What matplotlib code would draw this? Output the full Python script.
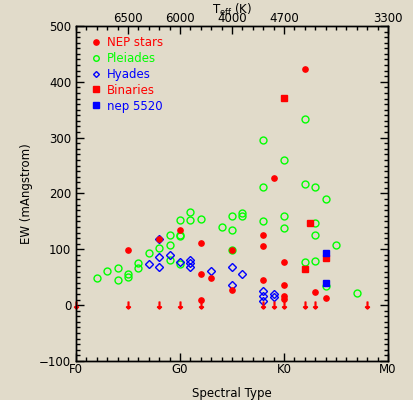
import matplotlib
matplotlib.use("Agg")
import matplotlib.pyplot as plt
from matplotlib.lines import Line2D
from matplotlib.ticker import MultipleLocator

# spectral type index: F0 = 0, G0 = 10, K0 = 20, M0 = 30
nep_x = [5, 8, 10, 12, 12, 13, 12, 15, 15, 22, 19, 18, 18, 20, 18, 20, 23, 20, 20, 24]
nep_y = [98, 118, 135, 112, 55, 49, 10, 98, 28, 423, 228, 125, 106, 77, 45, 37, 24, 17, 11, 13]

pleiades_x = [2, 3, 4, 4, 5, 5, 6, 6, 7, 8, 9, 9, 9, 10, 10, 10, 10, 11, 11, 12, 14,
              15, 15, 16, 16, 15, 22, 18, 20, 18, 22, 23, 24, 18, 20, 20, 23, 23, 25,
              22, 23, 24, 27]
pleiades_y = [49, 61, 66, 45, 56, 50, 75, 67, 94, 103, 125, 107, 80, 152, 126, 124, 73,
              167, 152, 154, 140, 160, 135, 165, 160, 98, 333, 295, 260, 212, 217, 212,
              191, 150, 159, 138, 148, 125, 107, 77, 79, 34, 21]

hyades_x = [8, 8, 8, 7, 9, 10, 11, 11, 11, 13, 15, 16, 15, 18, 18, 18, 19, 19]
hyades_y = [118, 87, 68, 73, 89, 77, 80, 75, 69, 61, 69, 55, 36, 25, 16, 7, 20, 14]

binary_x = [20, 22.5, 24, 22]
binary_y = [371, 147, 85, 64]

nep5520_x = [24, 24]
nep5520_y = [93, 39]

# upper limits plotted at EW = 0
limit_x = [0, 5, 8, 10, 12, 18, 19, 20, 22, 23, 28]
limit_y = [0] * len(limit_x)

sp_ticks = [0, 10, 20, 30]
sp_labels = ["F0", "G0", "K0", "M0"]
teff_ticks = [5, 10, 15, 20, 30]
teff_labels = ["6500", "6000", "4000", "4700", "3300"]

bg = "#e1dbca"
plt.rcParams["font.family"] = "DejaVu Sans"
plt.rcParams["font.size"] = 8.5

fig = plt.figure(figsize=(4.14, 4.0), dpi=100, facecolor=bg)
ax = fig.add_axes([76 / 414, 1 - 361 / 400, 312 / 414, 335 / 400], facecolor=bg)

ax.plot(pleiades_x, pleiades_y, "o", ms=5, mfc="none", mec="#00ff00", mew=1)
ax.plot(hyades_x, hyades_y, "D", ms=3.6, mfc="none", mec="blue", mew=1)
ax.plot(nep_x, nep_y, "o", ms=3.8, color="red")
ax.plot(binary_x, binary_y, "s", ms=4.8, color="red")
ax.plot(nep5520_x, nep5520_y, "s", ms=4.8, color="blue")
ax.plot(limit_x, limit_y, marker=r"$\downarrow$", ls="none", ms=5, color="red",
        clip_on=False)

ax.set_xlim(0, 30)
ax.set_ylim(-100, 500)
ax.set_xticks(sp_ticks)
ax.set_xticklabels(sp_labels)
ax.xaxis.set_minor_locator(MultipleLocator(1))
ax.yaxis.set_major_locator(MultipleLocator(100))
ax.yaxis.set_minor_locator(MultipleLocator(10))
ax.tick_params(which="both", direction="in", right=True, width=1)
ax.tick_params(axis="x", which="both", top=False)
ax.tick_params(which="major", length=6)
ax.tick_params(which="minor", length=3)
ax.tick_params(axis="x", pad=1.5)
ax.set_xlabel("Spectral Type", labelpad=8)
ax.set_ylabel("EW (mAngstrom)", labelpad=4)

top = ax.twiny()
top.set_xlim(0, 30)
top.set_xticks(teff_ticks)
top.set_xticklabels(teff_labels)
top.xaxis.set_minor_locator(MultipleLocator(1))
top.tick_params(which="both", direction="in", width=1)
top.tick_params(which="major", length=6, pad=0.5)
top.tick_params(which="minor", length=3)
top.set_xlabel(r"T$_{\rm eff}$ (K)", labelpad=-1)

for a in (ax, top):
    for s in a.spines.values():
        s.set_linewidth(1)

handles = [
    Line2D([], [], ls="none", marker="o", ms=3.8, color="red"),
    Line2D([], [], ls="none", marker="o", ms=4, mfc="none", mec="#00ff00", color="#00ff00"),
    Line2D([], [], ls="none", marker="D", ms=3, mfc="none", mec="blue", color="blue"),
    Line2D([], [], ls="none", marker="s", ms=4.5, color="red"),
    Line2D([], [], ls="none", marker="s", ms=4.5, color="blue"),
]
names = ["NEP stars", "Pleiades", "Hyades", "Binaries", "nep 5520"]
ax.legend(handles, names, loc="upper left", bbox_to_anchor=(0.03, 0.985),
          frameon=False, handlelength=1, handletextpad=0.4, labelspacing=0.25,
          borderaxespad=0, labelcolor="linecolor", fontsize=8.5)

fig.savefig("out.png", dpi=100, facecolor=bg)
